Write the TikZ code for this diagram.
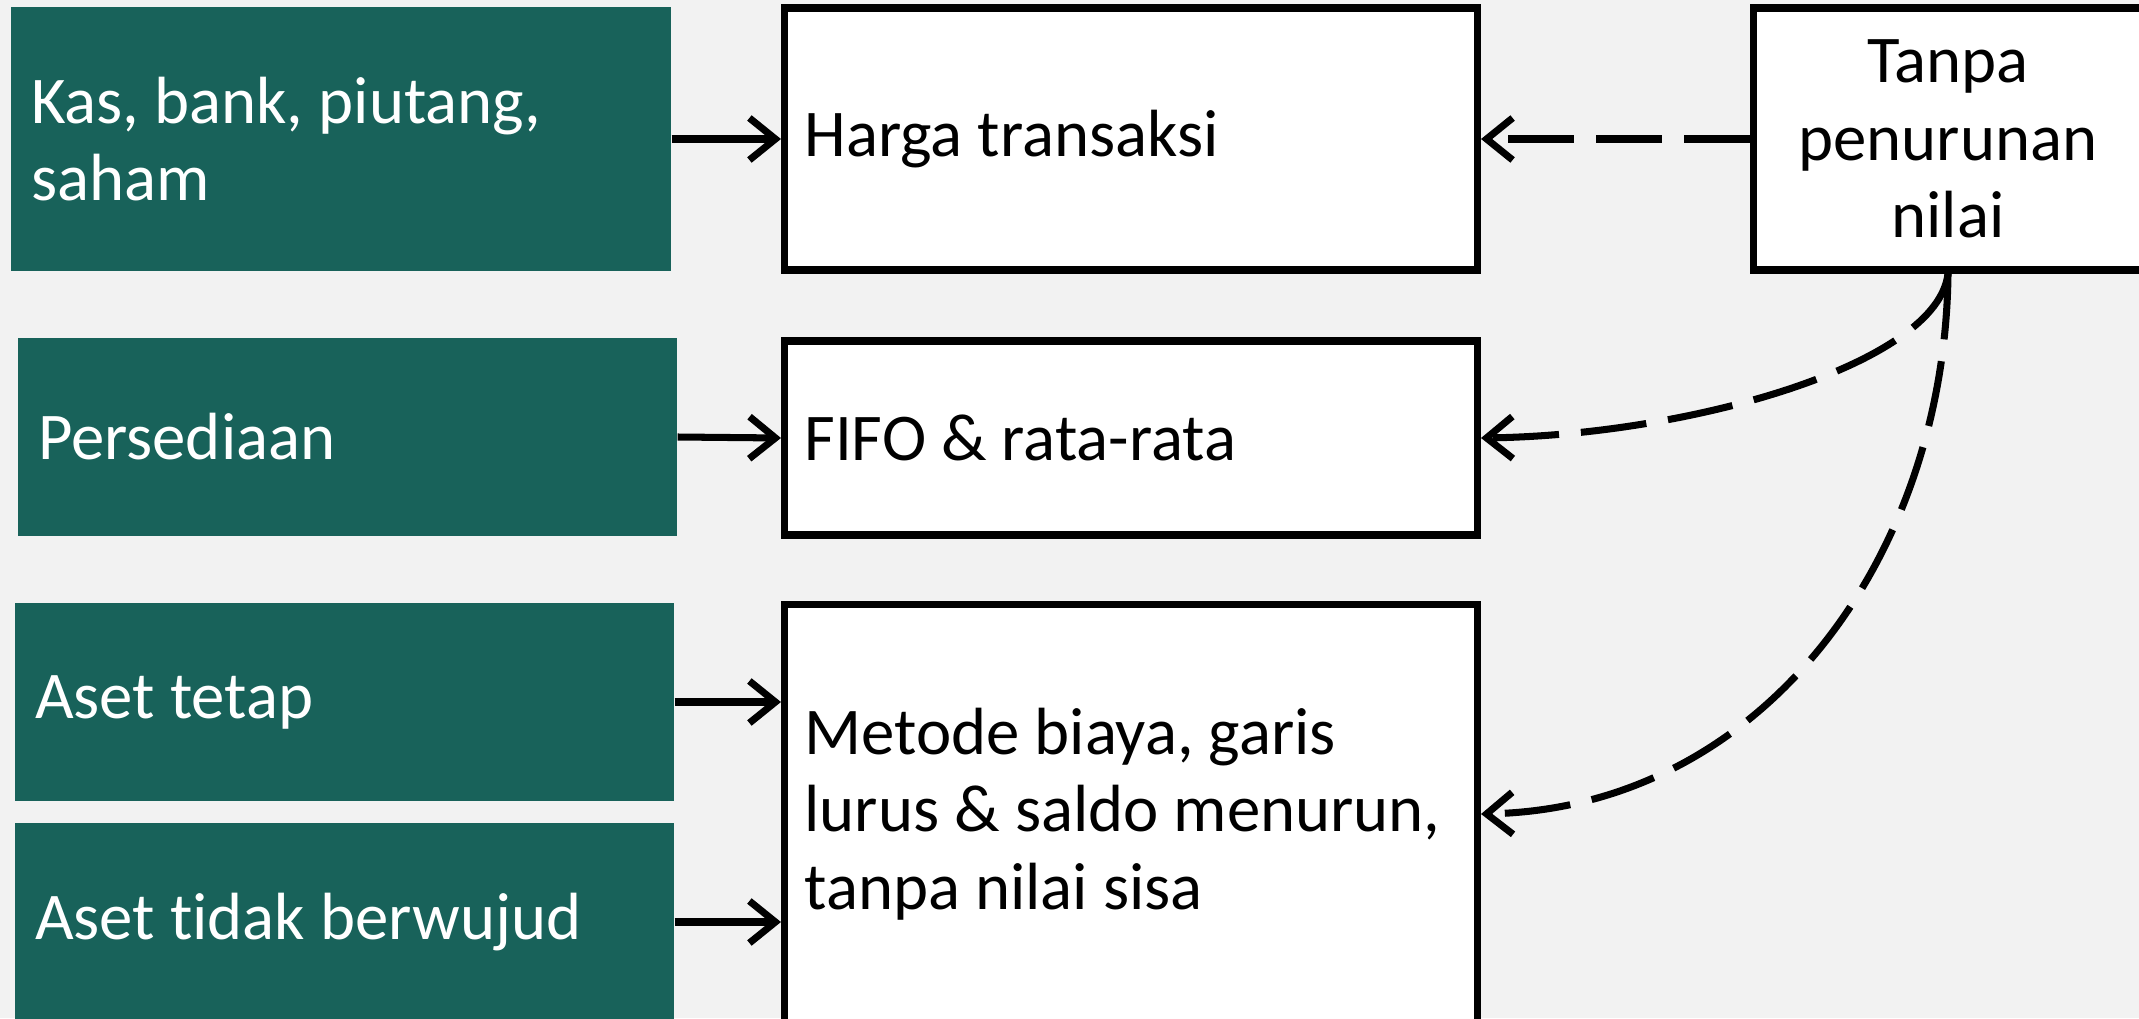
\documentclass[tikz,border=0pt]{standalone}
\usepackage{fontspec}
\setmainfont{Carlito}[Ligatures=NoCommon]
\usepackage{tikz}
\usetikzlibrary{calc,arrows.meta}
\definecolor{hijau}{RGB}{24,98,90}
\definecolor{latar}{RGB}{242,242,242}
\tikzset{
  aset/.style={fill=hijau,text=white,inner xsep=0.2cm,align=flush left,minimum height=1.98cm,text width=6.19cm,font=\fontsize{19}{22}\selectfont},
  metode/.style={draw,line width=2pt,fill=white,inner xsep=0.2cm,align=flush left,text width=6.53cm,font=\fontsize{19}{22}\selectfont},
  panah/.style={-{Straight Barb[length=0.26cm,width=0.42cm]},line width=2pt},
  putus/.style={panah,dash pattern=on 0.66cm off 0.22cm}
}

\begin{document}
\begin{tikzpicture}
              \clip(0,0)rectangle(21.39,10.18);
              \fill[latar](0,0)rectangle(21.39,10.18);
              % kelompok aset
              \node[aset,minimum height=2.64cm,text width=6.2cm](kas)at(3.41,8.79){Kas, bank, piutang,\\saham};
              \node[aset](sedia)at(3.475,5.81){Persediaan};
              \node[aset](tetap)at(3.445,3.16){Aset tetap};
              \node[aset](takwujud)at(3.445,0.96){Aset tidak berwujud};
              % metode pengukuran
              \node[metode,minimum height=2.62cm](harga)at(11.31,8.79){Harga transaksi};
              \node[metode,minimum height=1.94cm](fifo)at(11.31,5.80){FIFO \& rata-rata};
              \node[metode,minimum height=4.19cm](biaya)at(11.31,2.04){Metode biaya, garis\\lurus \& saldo menurun,\\tanpa nilai sisa};
              \node[metode,align=center,text width=3.5cm,minimum height=2.62cm](tanpa)at(19.48,8.79){Tanpa\\penurunan\\nilai};
              \draw[panah](kas.east)--(harga.west);
              \draw[panah](sedia.east)--(fifo.west);
              \draw[panah](tetap.east)--(tetap.east-|biaya.west);
              \draw[panah](takwujud.east)--(takwujud.east-|biaya.west);
              \draw[putus](tanpa.west)--(harga.east);
              \draw[putus](tanpa.south)..controls +(-0.1,-0.9) and +(2.11,0.03)..(fifo.east);
              \draw[putus](tanpa.south)..controls +(-0.03,-2.85) and +(2.81,0.06)..(biaya.east);
            \end{tikzpicture}
\end{document}
